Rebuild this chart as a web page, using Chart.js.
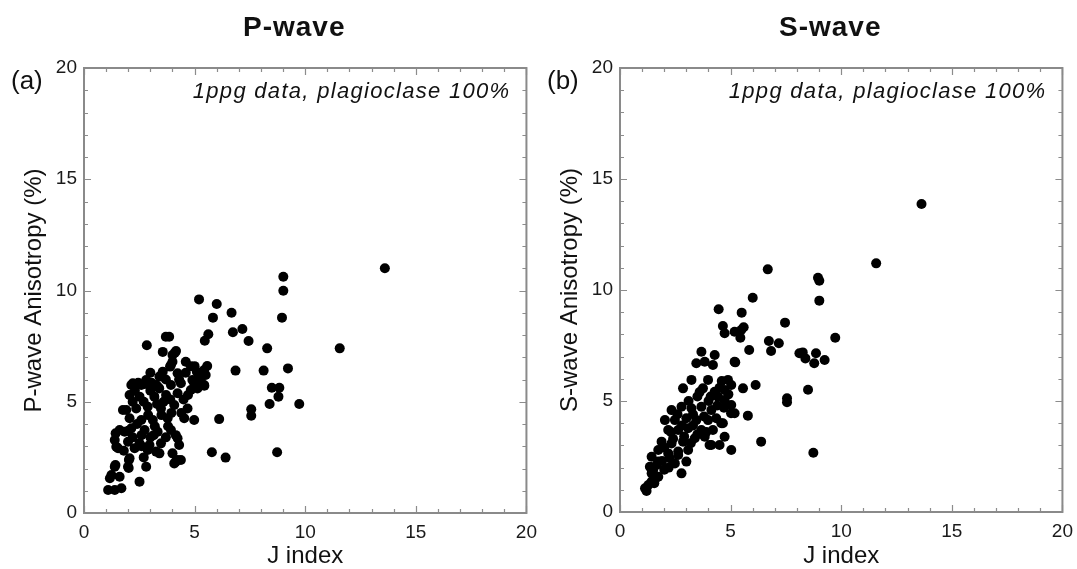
<!DOCTYPE html>
<html>
<head>
<meta charset="utf-8">
<script src="https://cdn.jsdelivr.net/npm/chart.js@4.4.0/dist/chart.umd.min.js"></script>
<style>
  html, body { margin: 0; padding: 0; background: #fff; overflow: hidden; width: 1077px; height: 569px; }
  canvas { position: absolute; top: 0; }
</style>
</head>
<body>
<canvas id="cP" width="545" height="569" style="left:0px"></canvas>
<canvas id="cS" width="545" height="569" style="left:536px"></canvas>
<script>
// ---------- DATA ----------
const pTitle = "P-wave";
const sTitle = "S-wave";
const pLetter = "(a)";
const sLetter = "(b)";
const noteText = "1ppg data, plagioclase 100%";
const xTitle = "J index";
const pYTitle = "P-wave Anisotropy (%)";
const sYTitle = "S-wave Anisotropy (%)";
const axisMin = 0, axisMax = 20, majorStep = 5, minorStep = 1;

// P-wave anisotropy vs J index
const pJ = [13.6,11.56,9.01,9.01,8.95,9.22,9.73,8.49,8.83,8.79,8.39,8.73,8.28,8.12,7.56,7.56,7.44,7.16,6.85,6.73,6.67,6.40,6.11,6.00,5.83,5.78,5.62,5.46,5.20,5.57,5.50,5.44,5.20,
  3.70,3.85,2.84,3.56,4.11,4.00,3.89,4.60,4.83,5.10,5.43,3.56,3.41,2.81,2.21,2.59,3.26,3.93,4.38,4.98,5.28,2.06,2.51,3.18,3.71,4.23,4.83,
  1.91,2.36,2.88,3.48,4.08,4.68,4.98,4.53,2.06,2.59,3.11,3.78,1.61,2.14,2.74,3.33,3.93,1.39,1.99,2.51,2.96,3.48,4.23,4.30,1.54,2.29,3.26,4.00,
  4.23,4.08,2.06,1.99,2.81,1.39,1.24,1.17,1.61,2.51,1.09,1.39,1.69,
  4.16,4.00,3.93,4.23,2.14,3.33,4.90,5.13,5.43,1.76,1.43,1.84,4.15,1.46,2.88,3.41,4.38,4.15,2.03,2.02,1.42,
  2.70,3.00,3.30,3.60,2.40,2.90,3.50,3.00,2.60,3.70,3.20,2.30,2.00,4.40,4.50,3.90,4.30,4.60,2.70,3.80,2.20,1.80,3.00,3.70,
  2.45,2.75,3.05,2.20,3.40,3.95,4.70,5.00,2.60,3.15];
const pAniso = [11.0,7.40,10.62,9.99,8.78,6.50,4.90,5.63,5.63,5.23,4.90,2.73,7.40,6.40,4.66,4.37,7.73,8.27,6.40,8.12,9.00,2.49,4.22,9.39,8.78,2.73,8.03,7.74,9.60,6.61,6.20,5.72,6.20,
  7.92,7.92,7.54,7.24,7.20,6.80,6.58,6.80,6.60,6.35,6.43,6.35,6.13,5.98,5.83,5.75,5.75,5.75,5.83,5.83,5.90,5.30,5.23,5.23,5.30,5.38,5.53,
  4.63,4.70,4.78,4.70,4.85,4.70,4.18,4.26,4.26,4.18,4.18,4.26,3.73,3.81,3.73,3.65,3.73,3.28,3.20,3.13,3.06,3.13,3.36,3.06,2.91,2.91,2.76,2.68,
  2.38,2.23,2.46,2.08,2.08,2.08,1.71,1.56,1.63,1.41,1.03,1.03,1.11,
  7.28,7.10,6.65,6.28,5.75,5.68,5.98,5.60,5.75,4.63,3.58,3.65,3.50,2.98,2.83,2.68,2.38,2.31,2.38,2.02,2.16,
  5.00,5.50,4.90,5.00,4.00,4.40,4.40,3.40,3.50,3.40,3.90,5.50,3.70,4.50,5.10,5.10,6.00,6.30,2.50,3.90,3.40,2.80,6.30,6.00,
  5.85,5.80,5.85,5.00,5.60,4.50,5.30,6.60,3.00,3.50];

// S-wave anisotropy vs J index
const sJ = [13.63,11.58,6.68,8.95,9.01,9.01,6.00,5.50,4.46,7.46,4.65,4.73,5.18,5.59,5.44,9.73,6.73,7.18,6.83,5.84,8.11,8.26,8.38,8.86,8.78,9.25,5.21,5.56,6.13,8.50,7.55,7.55,5.02,5.78,4.65,6.38,8.74,5.48,
  3.68,3.45,3.83,4.20,4.28,5.18,3.23,2.85,3.98,3.75,4.28,4.88,5.03,4.73,4.43,4.73,5.03,5.18,2.33,2.78,3.23,3.68,4.13,4.35,2.03,2.48,3.00,3.45,3.98,4.58,
  2.18,2.63,3.08,3.68,4.20,4.13,4.73,5.03,1.88,2.33,2.85,3.38,3.83,1.73,2.18,2.63,3.08,1.43,1.73,2.25,2.48,2.63,3.00,2.78,1.35,1.50,1.65,1.43,1.73,1.13,1.28,1.43,4.05,4.50,
  4.60,4.90,4.40,4.00,3.50,3.10,2.60,3.30,3.80,2.90,3.50,2.40,2.00,3.20,2.20,1.90,4.70,3.90,1.60,2.00,
  3.60,4.10,4.50,2.80,3.30,2.30,1.20,1.55];
const sAniso = [13.87,11.20,10.93,10.55,10.42,9.52,9.65,8.98,9.13,8.53,8.38,8.05,8.12,8.32,7.85,7.85,7.70,7.60,7.25,7.30,7.15,7.19,6.92,7.15,6.70,6.85,6.74,5.57,5.72,5.51,5.12,4.94,4.45,4.34,4.00,3.17,2.67,8.20,
  7.22,6.70,6.77,6.62,7.07,6.77,5.95,5.57,5.95,5.57,5.42,5.95,5.72,5.50,5.19,5.05,4.82,4.45,4.59,4.74,4.67,4.74,4.59,4.22,4.14,4.14,4.22,4.14,4.14,4.00,
  3.69,3.69,3.77,3.69,3.69,3.02,3.39,2.79,3.17,3.09,3.17,3.32,3.39,2.79,2.64,2.72,2.79,2.49,2.27,2.42,2.19,2.57,2.27,1.74,2.04,1.89,2.12,1.74,1.59,1.07,1.22,1.37,3.02,3.02,
  5.90,5.30,4.80,5.00,5.20,5.00,4.40,4.40,4.30,3.40,3.50,3.30,2.90,3.10,2.00,2.30,4.70,3.60,1.50,1.90,
  5.40,5.20,5.60,3.90,3.90,3.60,0.95,1.30];

// ---------- CHART ----------
const frame = {
  id: 'frame',
  beforeDatasetsDraw(chart, args, o) {
    const {ctx, chartArea: a, scales: {x, y}} = chart;
    ctx.save();
    ctx.strokeStyle = '#8c8c8c';
    ctx.lineWidth = 1.2;
    ctx.beginPath();
    for (let v = axisMin; v <= axisMax; v += minorStep) {
      const len = (v % majorStep === 0) ? 7 : 4;
      const px = Math.round(x.getPixelForValue(v)) + 0.5;
      ctx.moveTo(px, a.bottom); ctx.lineTo(px, a.bottom - len);
      ctx.moveTo(px, a.top); ctx.lineTo(px, a.top + len);
      const py = Math.round(y.getPixelForValue(v)) + 0.5;
      ctx.moveTo(a.left, py); ctx.lineTo(a.left + len, py);
      ctx.moveTo(a.right, py); ctx.lineTo(a.right - len, py);
    }
    ctx.stroke();
    ctx.lineWidth = 2;
    ctx.strokeStyle = '#8a8a8a';
    ctx.strokeRect(a.left, a.top, a.right - a.left, a.bottom - a.top);
    // texts
    ctx.fillStyle = '#111';
    ctx.textBaseline = 'alphabetic';
    ctx.font = 'bold 28px "Liberation Sans", Arial, sans-serif';
    ctx.letterSpacing = '1px';
    ctx.textAlign = 'center';
    ctx.fillText(o.title, (a.left + a.right) / 2 - 11, 36);
    ctx.letterSpacing = '0px';
    ctx.font = '26px "Liberation Sans", Arial, sans-serif';
    ctx.textAlign = 'left';
    ctx.fillText(o.letter, 11, 89);
    ctx.font = 'italic 22px "Liberation Sans", Arial, sans-serif';
    ctx.letterSpacing = '1.3px';
    ctx.textAlign = 'right';
    ctx.fillText(o.note, a.right - 16, 98);
    ctx.restore();
  }
};

function makeChart(id, xs, ys, title, letter, yTitle, padRight, xHeight) {
  const pts = xs.map((v, i) => ({x: v, y: ys[i]}));
  return new Chart(document.getElementById(id), {
    type: 'scatter',
    data: { datasets: [{ data: pts, backgroundColor: '#000', borderWidth: 0, pointRadius: 5, pointHoverRadius: 5 }] },
    options: {
      responsive: false, animation: false, devicePixelRatio: 1,
      layout: { padding: { top: 68, left: 0, right: padRight, bottom: 0 } },
      plugins: { legend: { display: false }, tooltip: { enabled: false },
        frame: { title: title, letter: letter, note: noteText } },
      scales: {
        x: {
          type: 'linear', min: axisMin, max: axisMax,
          grid: { display: false, drawTicks: false },
          border: { display: false },
          ticks: { stepSize: majorStep, padding: 8, color: '#1a1a1a',
            font: { family: '"Liberation Sans", Arial, sans-serif', size: 19 } },
          title: { display: true, text: xTitle, color: '#111', padding: { top: 0, bottom: -2 },
            font: { family: '"Liberation Sans", Arial, sans-serif', size: 24 } },
          afterFit(s) { s.height = xHeight; }
        },
        y: {
          type: 'linear', min: axisMin, max: axisMax,
          grid: { display: false, drawTicks: false },
          border: { display: false },
          ticks: { stepSize: majorStep, padding: 7, color: '#1a1a1a',
            font: { family: '"Liberation Sans", Arial, sans-serif', size: 19 } },
          title: { display: true, text: yTitle, color: '#111', padding: { top: 20, bottom: 0 },
            font: { family: '"Liberation Sans", Arial, sans-serif', size: 24 } },
          afterFit(s) { s.width = 84; }
        }
      }
    },
    plugins: [frame]
  });
}

makeChart('cP', pJ, pAniso, pTitle, pLetter, pYTitle, 15, 56);
makeChart('cS', sJ, sAniso, sTitle, sLetter, sYTitle, 17, 57);
</script>
</body>
</html>
